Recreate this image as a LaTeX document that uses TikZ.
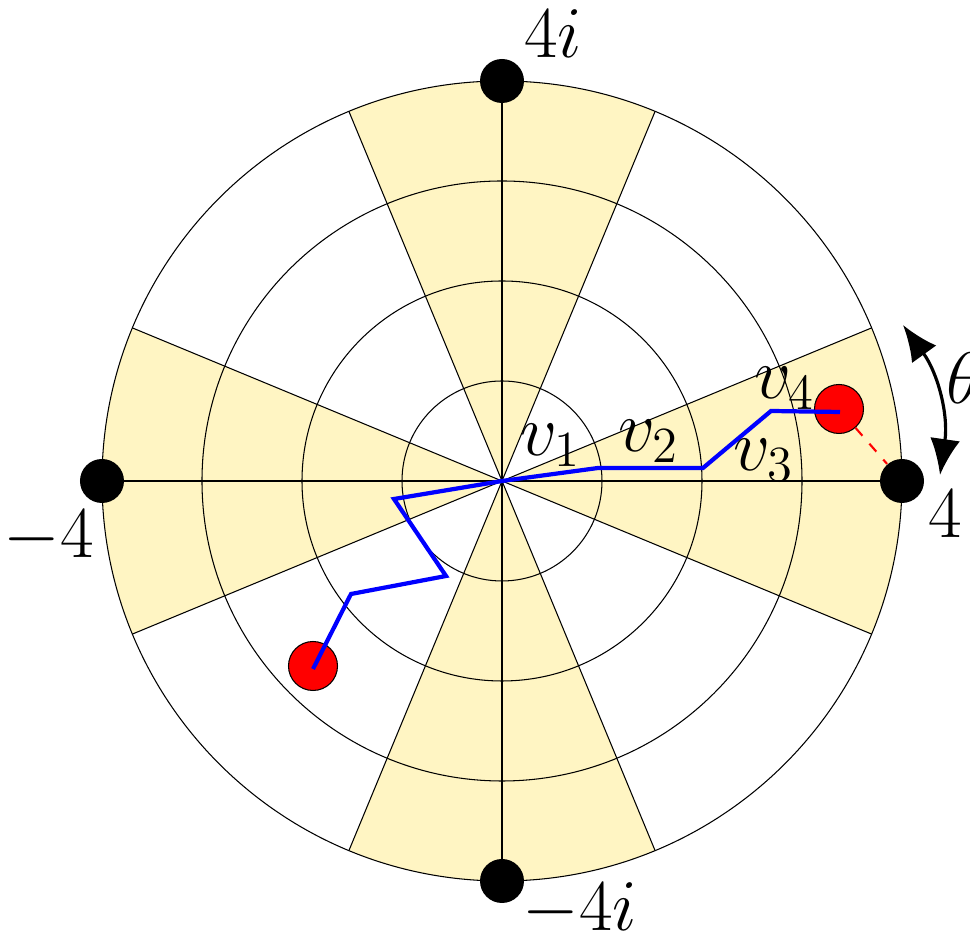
\documentclass[tikz,border=0pt]{standalone}
\usepackage{amsmath}
\usetikzlibrary{arrows.meta,positioning,calc}
\definecolor{sectoryellow}{RGB}{255,245,195}
\tikzstyle{blackdot} = [circle, fill=black, minimum size=0.44cm, inner sep=0pt]
\tikzstyle{reddot} = [circle, draw=black, line width=0.3pt, fill=red, minimum size=0.49cm, inner sep=0pt]
\tikzstyle{walk} = [blue, line width=1.2pt]
\tikzstyle{grid} = [black, line width=0.3pt]
\tikzstyle{lbl} = [font=\fontsize{20}{24}\selectfont, inner sep=0pt]

\begin{document}
\begin{tikzpicture}
    \useasboundingbox (-5.02,-4.58) rectangle (4.68,4.81);
    \coordinate (o) at (0,0);

    % Shaded sectors
    \foreach \a in {0,90,180,270} {
        \fill[sectoryellow] (o) -- (\a-22.5:4) arc (\a-22.5:\a+22.5:4) -- cycle;
    }

    % Rings
    \foreach \r in {1,2,3,4} {
        \draw[grid] (o) circle (\r);
    }

    % Axes and sector edges
    \draw[grid] (-4,0) -- (4,0);
    \draw[grid] (0,-4) -- (0,4);
    \foreach \a in {22.5,157.5,202.5,337.5,67.5,112.5,247.5,292.5} {
        \draw[grid] (o) -- (\a:4);
    }

    % Points on the outer circle
    \node[blackdot] (pr) at (4,0) {};
    \node[blackdot] (pt) at (0,4) {};
    \node[blackdot] (pl) at (-4,0) {};
    \node[blackdot] (pb) at (0,-4) {};

    % End points of the walks
    \node[reddot] (ra) at (3.37,0.72) {};
    \node[reddot] (rb) at (-1.89,-1.85) {};
    \draw[red, dashed, line width=0.6pt] (ra) -- (pr);

    % First walk
    \coordinate (a1) at (0.96,0.13);
    \coordinate (a2) at (2.01,0.13);
    \coordinate (a3) at (2.69,0.70);
    \coordinate (a4) at (3.38,0.69);
    \draw[walk] (o) -- (a1) -- (a2) -- (a3) -- (a4);

    % Second walk
    \coordinate (b1) at (-1.08,-0.18);
    \coordinate (b2) at (-0.56,-0.95);
    \coordinate (b3) at (-1.51,-1.13);
    \coordinate (b4) at (-1.89,-1.88);
    \draw[walk] (o) -- (b1) -- (b2) -- (b3) -- (b4);

    % Angle marker
    \coordinate (t0) at (4.38,0.06);
    \coordinate (t1) at (4.01,1.56);
    \draw[line width=0.9pt, {Latex[length=3.6mm,width=3mm]}-{Latex[length=3.6mm,width=3mm]}] (t0) to[bend right=22] (t1);

    % Labels
    \node[lbl] (lt) at (0.51,4.47) {$4i$};
    \node[lbl] (ll) at (-4.53,-0.56) {$-4$};
    \node[lbl] (lr) at (4.43,-0.33) {$4$};
    \node[lbl] (lb) at (0.78,-4.29) {$-4i$};
    \node[lbl] (v1) at (0.49,0.36) {$v_1$};
    \node[lbl] (v2) at (1.47,0.40) {$v_2$};
    \node[lbl] (v3) at (2.62,0.21) {$v_3$};
    \node[lbl] (v4) at (2.83,0.93) {$v_4$};
    \node[lbl] (th) at (4.62,1.03) {$\theta$};
\end{tikzpicture}
\end{document}
